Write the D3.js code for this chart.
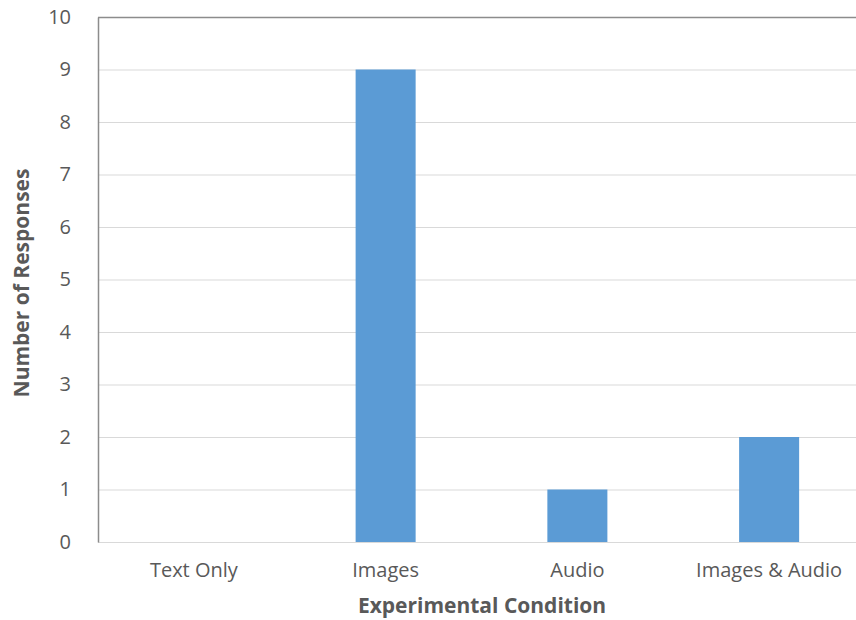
<!DOCTYPE html>
<html>
<head>
<meta charset="utf-8">
<script src="https://cdn.jsdelivr.net/npm/d3@7"></script>
<style>
  html, body { margin: 0; padding: 0; background: #fff; }
  svg { display: block; }
  svg text { font-family: "Open Sans", "Segoe UI", sans-serif; }
</style>
</head>
<body>
<svg id="chart" width="856" height="620"></svg>
<script>
// Responses per experimental condition
const categories = ["Text Only", "Images", "Audio", "Images & Audio"];
const responses = [0, 9, 1, 2];
const yTicks = [0, 1, 2, 3, 4, 5, 6, 7, 8, 9, 10];

const svg = d3.select("#chart");
const plot = { left: 98, right: 865, top: 17, bottom: 542 };

const x = d3.scaleBand()
  .domain(categories)
  .range([plot.left, plot.right])
  .paddingInner(0.687)
  .paddingOuter(0.3435);

const xLabel = d3.scaleBand().domain(categories).range([plot.left, plot.right]);

const y = d3.scaleLinear().domain([0, 10]).range([plot.bottom, plot.top]);

// horizontal gridlines
svg.append("g")
  .selectAll("line")
  .data(yTicks.filter(t => t > 0 && t < 10))
  .join("line")
  .attr("x1", plot.left).attr("x2", 856)
  .attr("y1", d => y(d) + 0.5).attr("y2", d => y(d) + 0.5)
  .attr("stroke", "#d9d9d9").attr("stroke-width", 1);

// baseline
svg.append("line")
  .attr("x1", plot.left).attr("x2", 856)
  .attr("y1", y(0) + 0.5).attr("y2", y(0) + 0.5)
  .attr("stroke", "#d9d9d9").attr("stroke-width", 1);

// top border
svg.append("line")
  .attr("x1", plot.left).attr("x2", 856)
  .attr("y1", y(10) + 0.5).attr("y2", y(10) + 0.5)
  .attr("stroke", "#8c8c8c").attr("stroke-width", 1.5);

// bars
svg.append("g")
  .selectAll("rect")
  .data(categories.map((c, i) => ({ c, v: responses[i] })))
  .join("rect")
  .attr("x", d => x(d.c))
  .attr("width", x.bandwidth())
  .attr("y", d => y(d.v))
  .attr("height", d => y(0) - y(d.v))
  .attr("fill", "#5b9bd5");

// left axis
const yAxis = svg.append("g")
  .attr("transform", `translate(${plot.left},0)`)
  .call(d3.axisLeft(y).tickValues(yTicks).tickSize(0).tickPadding(27));
yAxis.attr("font-family", null);
yAxis.select(".domain").attr("stroke", "#8c8c8c").attr("stroke-width", 1.5);
yAxis.selectAll("text")
  .attr("fill", "#595959")
  .style("font-size", "20px");

// bottom labels
const xAxis = svg.append("g")
  .attr("transform", `translate(0,${plot.bottom})`)
  .call(d3.axisBottom(xLabel).tickSize(0).tickPadding(21));
xAxis.attr("font-family", null);
xAxis.select(".domain").remove();
xAxis.selectAll("text")
  .attr("fill", "#595959")
  .style("font-size", "20px");

// axis titles
svg.append("text")
  .attr("x", 482).attr("y", 613)
  .attr("text-anchor", "middle")
  .attr("fill", "#595959")
  .style("font-size", "21px").style("font-weight", "bold")
  .text("Experimental Condition");

svg.append("text")
  .attr("transform", "translate(29,283) rotate(-90)")
  .attr("text-anchor", "middle")
  .attr("fill", "#595959")
  .style("font-size", "21px").style("font-weight", "bold")
  .text("Number of Responses");
</script>
</body>
</html>
